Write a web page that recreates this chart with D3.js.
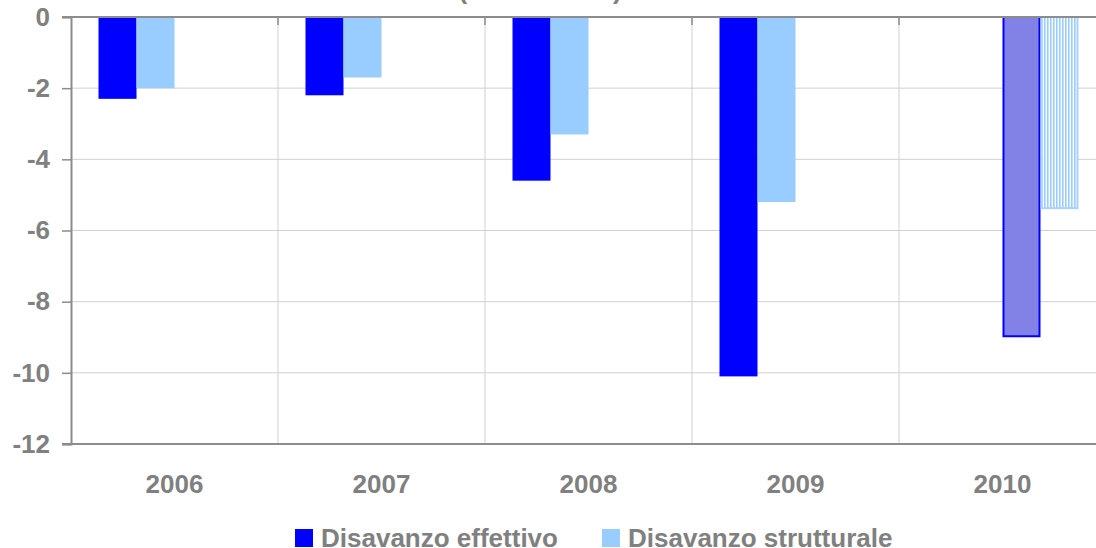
<!DOCTYPE html>
<html>
<head>
<meta charset="utf-8">
<script src="https://cdn.jsdelivr.net/npm/d3@7/dist/d3.min.js"></script>
<style>
  html, body { margin: 0; padding: 0; background: #fff; }
  svg { display: block; font-family: "Liberation Sans", Arial, sans-serif; }
</style>
</head>
<body>
<svg id="chart" width="1096" height="548"></svg>
<script>
// Data
const years = ['2006', '2007', '2008', '2009', '2010'];
const effettivo = [-2.3, -2.2, -4.6, -10.1, null];
const strutturale = [-2.0, -1.7, -3.3, -5.2, null];
const effettivoStima = [null, null, null, null, -9.0];
const strutturaleStima = [null, null, null, null, -5.4];
const yTicks = [0, -2, -4, -6, -8, -10, -12];
const legendLabels = ['Disavanzo effettivo', 'Disavanzo strutturale'];
const titleText = '(in % del PIL)';

const COLORS = {
    dark: '#0000ff',
    light: '#99ccff',
    darkStima: '#8282e6',
    text: '#808080',
    grid: '#d0d0d0',
    axis: '#8c8c8c'
};

const PLOT = { left: 71, top: 17, right: 1106, bottom: 444 };

const svg = d3.select('#chart');

// Hatch pattern for the estimated structural deficit
const defs = svg.append('defs');
const pat = defs.append('pattern')
    .attr('id', 'hatch')
    .attr('patternUnits', 'userSpaceOnUse')
    .attr('width', 3)
    .attr('height', 10);
pat.append('rect').attr('width', 3).attr('height', 10).attr('fill', '#fff');
pat.append('rect').attr('width', 1.6).attr('height', 10).attr('fill', COLORS.light);

// Scales
const x0 = d3.scaleBand()
    .domain(years)
    .range([PLOT.left, PLOT.right])
    .paddingInner(0.2657)
    .paddingOuter(0.1329);

const slots = ['effettivo', 'strutturale', 'effettivoStima', 'strutturaleStima'];
const x1 = d3.scaleBand()
    .domain(slots)
    .range([0, x0.bandwidth()]);

const y = d3.scaleLinear()
    .domain([-12, 0])
    .range([PLOT.bottom, PLOT.top]);

// Horizontal grid
svg.append('g')
    .selectAll('line')
    .data(yTicks.filter(d => d !== 0 && d !== -12))
    .enter().append('line')
    .attr('x1', PLOT.left).attr('x2', PLOT.right)
    .attr('y1', d => y(d)).attr('y2', d => y(d))
    .attr('stroke', COLORS.grid).attr('stroke-width', 1);

// Vertical grid between categories
const step = x0.step();
const bounds = years.slice(1).map(d => x0(d) - step * x0.paddingInner() / 2);
svg.append('g')
    .selectAll('line')
    .data(bounds)
    .enter().append('line')
    .attr('x1', d => d).attr('x2', d => d)
    .attr('y1', PLOT.top).attr('y2', PLOT.bottom)
    .attr('stroke', COLORS.grid).attr('stroke-width', 1);

// Small tick marks under the zero line
svg.append('g')
    .selectAll('line')
    .data(bounds)
    .enter().append('line')
    .attr('x1', d => d).attr('x2', d => d)
    .attr('y1', PLOT.top).attr('y2', PLOT.top + 8)
    .attr('stroke', COLORS.axis).attr('stroke-width', 1.5);

// Bottom border
svg.append('line')
    .attr('x1', PLOT.left - 9).attr('x2', PLOT.right)
    .attr('y1', y(-12)).attr('y2', y(-12))
    .attr('stroke', COLORS.axis).attr('stroke-width', 2);

// Bars
const series = [
    { key: 'effettivo', values: effettivo, fill: COLORS.dark, stroke: 'none' },
    { key: 'strutturale', values: strutturale, fill: COLORS.light, stroke: 'none' },
    { key: 'effettivoStima', values: effettivoStima, fill: COLORS.darkStima, stroke: COLORS.dark },
    { key: 'strutturaleStima', values: strutturaleStima, fill: 'url(#hatch)', stroke: '#a8d2ff' }
];

series.forEach(s => {
    const data = years.map((yr, i) => ({ year: yr, value: s.values[i] }))
        .filter(d => d.value !== null);
    const off = s.stroke === 'none' ? 0 : 1;
    svg.append('g')
        .selectAll('rect')
        .data(data)
        .enter().append('rect')
        .attr('x', d => x0(d.year) + x1(s.key) + off)
        .attr('y', y(0))
        .attr('width', x1.bandwidth() - 2 * off)
        .attr('height', d => y(d.value) - y(0) - off)
        .attr('fill', s.fill)
        .attr('stroke', s.stroke)
        .attr('stroke-width', 2);
});

// Zero line (x axis) and y axis
svg.append('line')
    .attr('x1', PLOT.left - 9).attr('x2', PLOT.right)
    .attr('y1', y(0)).attr('y2', y(0))
    .attr('stroke', COLORS.axis).attr('stroke-width', 2);

const yAxis = svg.append('g')
    .attr('transform', `translate(${PLOT.left},0)`)
    .call(d3.axisLeft(y).tickValues(yTicks).tickSize(9).tickPadding(12).tickFormat(d3.format('d')));
yAxis.select('.domain').attr('stroke', COLORS.axis).attr('stroke-width', 2);
yAxis.selectAll('.tick line').attr('stroke', COLORS.axis).attr('stroke-width', 1.5);
yAxis.selectAll('.tick text')
    .attr('fill', COLORS.text)
    .style('font-size', '26px')
    .style('font-weight', 'bold')
    .text(d => d === 0 ? '0' : '-' + Math.abs(d));

// Category labels
svg.append('g')
    .selectAll('text')
    .data(years)
    .enter().append('text')
    .attr('x', d => x0(d) + x0.bandwidth() / 2)
    .attr('y', 493)
    .attr('text-anchor', 'middle')
    .attr('fill', COLORS.text)
    .style('font-size', '26px')
    .style('font-weight', 'bold')
    .text(d => d);

// Title (cut off at the top)
svg.append('text')
    .attr('x', 540)
    .attr('y', -1)
    .attr('text-anchor', 'middle')
    .attr('fill', COLORS.text)
    .style('font-size', '26px')
    .style('font-weight', 'bold')
    .text(titleText);

// Legend
const legend = svg.append('g');
const legendItems = [
    { label: legendLabels[0], color: COLORS.dark, x: 295 },
    { label: legendLabels[1], color: COLORS.light, x: 602 }
];
legendItems.forEach(it => {
    legend.append('rect')
        .attr('x', it.x).attr('y', 529)
        .attr('width', 18).attr('height', 18)
        .attr('fill', it.color);
    legend.append('text')
        .attr('x', it.x + 26)
        .attr('y', 547)
        .attr('fill', COLORS.text)
        .style('font-size', '26px')
        .style('font-weight', 'bold')
        .text(it.label);
});
</script>
</body>
</html>
